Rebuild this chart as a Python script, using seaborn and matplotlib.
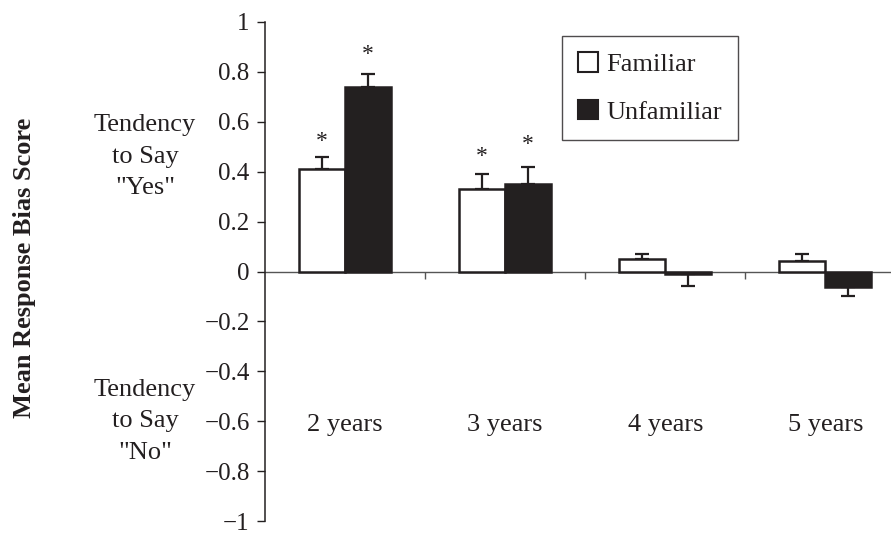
import numpy as np
import pandas as pd
import matplotlib
matplotlib.use("Agg")
import matplotlib.pyplot as plt
import matplotlib.transforms as mtrans
from matplotlib.patches import Patch
import seaborn as sns

ages = ["2 years", "3 years", "4 years", "5 years"]
groups = ["Familiar", "Unfamiliar"]
familiar = [0.41, 0.33, 0.05, 0.043]
unfamiliar = [0.74, 0.35, -0.012, -0.063]
familiar_sem = [0.05, 0.06, 0.02, 0.027]
unfamiliar_sem = [0.05, 0.07, 0.048, 0.037]
# significance stars (height of star centre), None = no star
familiar_star = [0.52, 0.46, None, None]
unfamiliar_star = [0.87, 0.51, None, None]
yticks = [-1, -0.8, -0.6, -0.4, -0.2, 0, 0.2, 0.4, 0.6, 0.8, 1]
ytick_labels = ["\u22121", "\u22120.8", "\u22120.6", "\u22120.4", "\u22120.2",
                "0", "0.2", "0.4", "0.6", "0.8", "1"]

ink = "#231f20"

df = pd.DataFrame({
    "age": ages * 2,
    "group": ["Familiar"] * 4 + ["Unfamiliar"] * 4,
    "value": familiar + unfamiliar,
})

sns.set_theme(style="white")
plt.rcParams["font.family"] = ["Liberation Serif", "DejaVu Serif"]

fig = plt.figure(figsize=(8.91, 5.36), dpi=100)
ax = fig.add_axes([265 / 891, 15 / 536, 1 - 265 / 891, 499 / 536])

sns.barplot(data=df, x="age", y="value", hue="group", hue_order=groups,
            palette={"Familiar": "white", "Unfamiliar": ink},
            edgecolor=ink, linewidth=1.8, width=0.575, errorbar=None,
            legend=False, ax=ax, zorder=3)

sems = [familiar_sem, unfamiliar_sem]
stars = [familiar_star, unfamiliar_star]
for cont, sem, star in zip(ax.containers, sems, stars):
    for bar, s, st in zip(cont, sem, star):
        xc = bar.get_x() + bar.get_width() / 2
        v = bar.get_y() + bar.get_height()
        yerr = [[0], [s]] if v >= 0 else [[s], [0]]
        ax.errorbar([xc], [v], yerr=yerr, fmt="none", ecolor=ink,
                    elinewidth=1.6, capsize=4.7, capthick=1.6, zorder=2)
        if st is not None:
            ax.text(xc, st, "*", ha="center", va="center", fontsize=17,
                    color=ink)

ax.set_xlim(-0.5, 3.41)
ax.set_ylim(-1, 1)
ax.set_yticks(yticks)
ax.set_yticklabels(ytick_labels, fontsize=18, color=ink)
ax.set_xticks([0.5, 1.5, 2.5])
ax.set_xticklabels([])
ax.tick_params(axis="y", direction="out", length=6, width=1, color=ink,
               pad=5, left=True)
ax.tick_params(axis="x", direction="out", length=5, width=1, color="#555555",
               bottom=True)
ax.set_xlabel("")
ax.set_ylabel("")
for side in ["top", "right"]:
    ax.spines[side].set_visible(False)
ax.spines["bottom"].set_position(("data", 0))
ax.spines["bottom"].set_color("#555555")
ax.spines["bottom"].set_linewidth(1)
ax.spines["bottom"].set_zorder(1)
ax.spines["left"].set_color(ink)
ax.spines["left"].set_linewidth(1.1)

for i, a in enumerate(ages):
    ax.text(i, -0.615, a, ha="center", va="center", fontsize=19, color=ink)

tr = mtrans.blended_transform_factory(fig.transFigure, ax.transData)
ax.text(145 / 891, 0.46, "Tendency\nto Say\n\"Yes\"", transform=tr,
        ha="center", va="center", fontsize=19, color=ink, linespacing=1.55)
ax.text(145 / 891, -0.60, "Tendency\nto Say\n\"No\"", transform=tr,
        ha="center", va="center", fontsize=19, color=ink, linespacing=1.55)
fig.text(25 / 891, 1 - 268 / 536, "Mean Response Bias Score", rotation=90,
         ha="center", va="center", fontsize=19, fontweight="bold", color=ink)

handles = [Patch(facecolor="white", edgecolor=ink, linewidth=1.5),
           Patch(facecolor=ink, edgecolor=ink, linewidth=1.5)]
leg = fig.legend(handles, groups, loc="upper left",
                 bbox_to_anchor=(562 / 891, 1 - 36 / 536), frameon=True,
                 fancybox=False, fontsize=19, handlelength=0.75,
                 handleheight=0.75, handletextpad=0.3, labelspacing=0.9,
                 borderpad=0.62, borderaxespad=0)
leg.get_frame().set_edgecolor(ink)
leg.get_frame().set_linewidth(1)
for t in leg.get_texts():
    t.set_color(ink)

fig.savefig("out.png", dpi=100)
